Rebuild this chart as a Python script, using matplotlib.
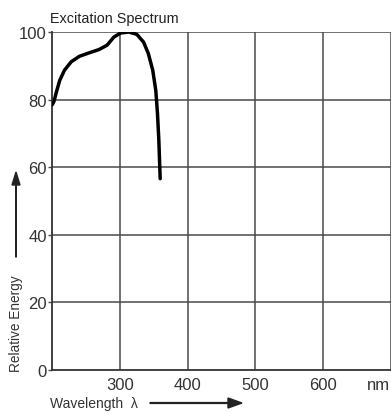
import matplotlib
matplotlib.use("Agg")
import matplotlib.pyplot as plt
from matplotlib.patches import FancyArrow

# Excitation spectrum (wavelength in nm, relative energy in %)
wavelength = [200, 202.5, 206, 211, 218, 228, 240, 254, 269, 281, 291, 301,
              313, 325, 335, 342, 348.5, 353, 355.5, 357.5, 359.5]
energy = [78.5, 79.5, 82.2, 85.7, 88.7, 91.2, 92.8, 93.8, 94.8, 96.1, 98.5,
          99.7, 100, 99.3, 97, 93.6, 88.7, 82.7, 75.9, 68, 56.6]

x_ticks = [300, 400, 500, 600, 700]
x_tick_labels = ["300", "400", "500", "600", "nm"]
y_ticks = [0, 20, 40, 60, 80, 100]
y_tick_labels = ["0", "20", "40", "60", "80", "100"]

plt.rcParams["font.family"] = ["Liberation Sans", "DejaVu Sans"]

W, H = 391, 414
fig = plt.figure(figsize=(W / 100, H / 100), dpi=100)


def fx(px):
    return px / W


def fy(py):
    return 1 - py / H


ax = fig.add_axes([fx(52.3), fy(371), fx(390.5) - fx(52.3), fy(33) - fy(371)])
ax.set_xlim(200, 700)
ax.set_ylim(0, 100)

grid_col = "#4a4a4a"
for x in x_ticks:
    ax.axvline(x, color=grid_col, lw=1.1, zorder=1)
for y in y_ticks[1:]:
    ax.axhline(y, color=grid_col, lw=1.1, zorder=1)

ax.plot(wavelength, energy, color="black", lw=2.5, solid_capstyle="round",
        solid_joinstyle="round", zorder=3)

for side in ("top", "right"):
    ax.spines[side].set_visible(False)
for side in ("left", "bottom"):
    ax.spines[side].set_color("#333333")
    ax.spines[side].set_linewidth(1.3)

ax.set_xticks(x_ticks)
ax.set_xticklabels(x_tick_labels, fontsize=12, color="#333333")
ax.set_yticks(y_ticks)
ax.set_yticklabels(y_tick_labels, fontsize=12, color="#333333")
ax.tick_params(axis="x", length=0, pad=5)
ax.tick_params(axis="y", length=3, width=1, color=grid_col, pad=1)
ax.get_xticklabels()[-1].set_horizontalalignment("right")

fig.text(fx(114), fy(19), "Excitation Spectrum", ha="center", va="center",
         fontsize=10.4, color="#222222")

fig.text(fx(16), fy(324), "Relative Energy", rotation=90, ha="center",
         va="center", fontsize=9.8, color="#333333")
fig.patches.append(FancyArrow(
    fx(16), fy(258), 0, fy(173) - fy(258), width=0.0015,
    head_width=fx(8), head_length=(fy(173) - fy(186)),
    length_includes_head=True, color="#222222", transform=fig.transFigure))

fig.text(fx(50), fy(404), "Wavelength  λ", ha="left", va="center",
         fontsize=10, color="#333333")
fig.patches.append(FancyArrow(
    fx(150), fy(404), fx(242) - fx(150), 0, width=0.002,
    head_width=(fy(399) - fy(409)), head_length=fx(14),
    length_includes_head=True, color="#222222", transform=fig.transFigure))

fig.savefig("out.png", dpi=100)
